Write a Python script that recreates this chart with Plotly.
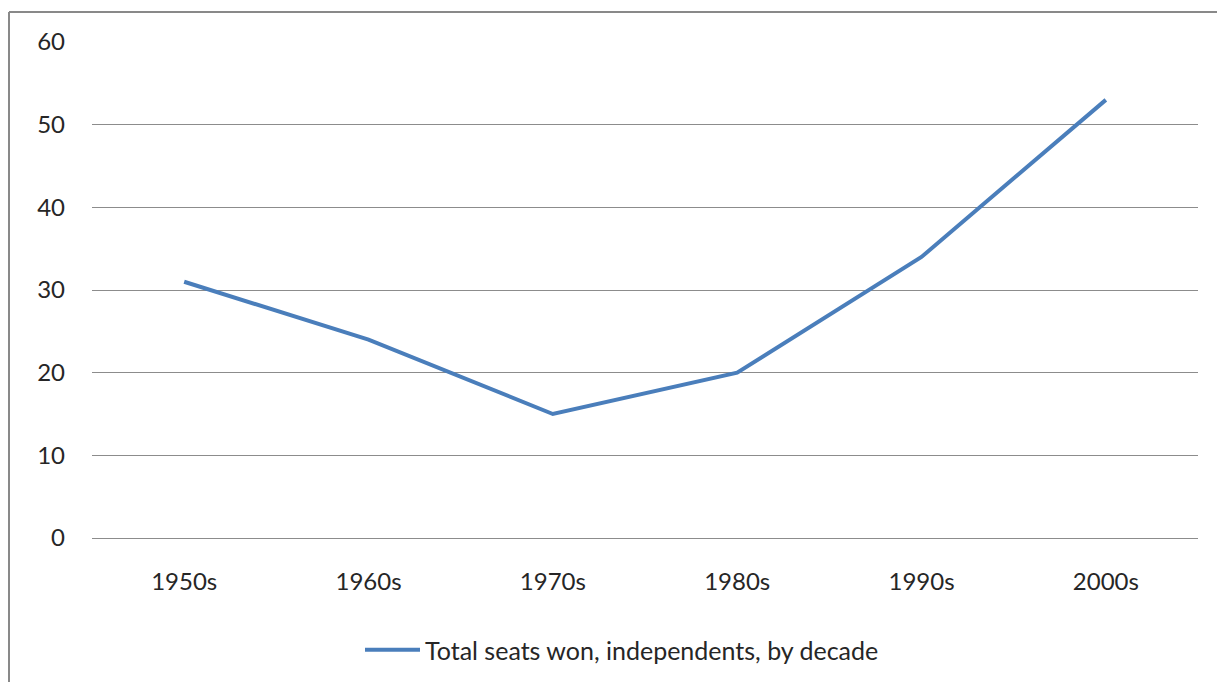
import plotly.graph_objects as go

decades = ["1950s", "1960s", "1970s", "1980s", "1990s", "2000s"]
seats = [31, 24, 15, 20, 34, 53]
series_name = "Total seats won, independents, by decade"
y_ticks = [0, 10, 20, 30, 40, 50, 60]

W, H = 1217, 682
L, R, T, B = 92, 1198, 42, 538

fig = go.Figure()
fig.add_trace(go.Scatter(
    x=decades, y=seats, mode="lines", name=series_name,
    line=dict(color="#4A7EBB", width=4),
))

pw, ph = R - L, B - T
def px(xp):
    return (xp - L) / pw
def py(yp):
    return (B - yp) / ph

border = dict(color="#898989", width=2)
fig.add_shape(type="line", xref="paper", yref="paper",
              x0=px(9), x1=px(1260), y0=py(12), y1=py(12), line=border, layer="below")
fig.add_shape(type="line", xref="paper", yref="paper",
              x0=px(9), x1=px(9), y0=py(12), y1=py(720), line=border, layer="below")

fig.update_layout(
    width=W, height=H,
    margin=dict(l=L, r=W - R, t=T, b=H - B, autoexpand=False),
    paper_bgcolor="white", plot_bgcolor="white",
    font=dict(family="Lato, Open Sans, sans-serif", size=24, color="#262626"),
    showlegend=True,
    legend=dict(orientation="h", x=px(622), xanchor="center", y=py(650), yanchor="middle",
                font=dict(size=25), itemwidth=55),
    xaxis=dict(type="category", range=[-0.5, 5.5], showgrid=False, showline=False,
               zeroline=False, ticks="", ticklabelstandoff=27, fixedrange=True),
    yaxis=dict(range=[0, 60], tickvals=y_ticks, showgrid=True, gridcolor="#8C8C8C",
               gridwidth=1, zeroline=True, zerolinecolor="#8C8C8C", zerolinewidth=1,
               showline=False, ticks="", ticklabelstandoff=26, fixedrange=True),
)

fig.write_html(
    "out.html",
    config={"displayModeBar": False, "staticPlot": True},
    post_script="document.body.style.margin='0';document.body.style.overflow='hidden';",
)
